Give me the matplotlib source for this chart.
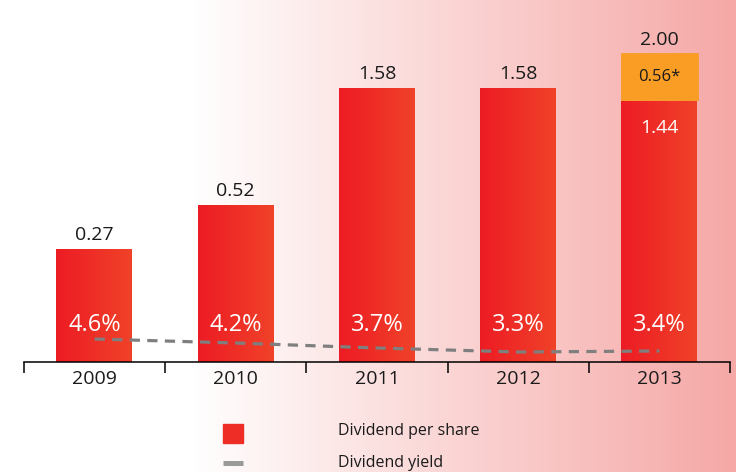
import numpy as np
import matplotlib
matplotlib.use('Agg')
import matplotlib.pyplot as plt
from matplotlib.patches import Rectangle
from matplotlib.lines import Line2D

years = ['2009', '2010', '2011', '2012', '2013']
dividend = [0.27, 0.52, 1.58, 1.58, 1.44]
special = [0, 0, 0, 0, 0.56]
yield_pct = [4.6, 4.2, 3.7, 3.3, 3.4]

plt.rcParams['font.family'] = ['Open Sans', 'DejaVu Sans']

W, H = 736, 472
RED_L = np.array([237, 28, 36]) / 255
RED_R = np.array([240, 66, 41]) / 255
ORANGE = '#f99d25'
TXT = '#1a1a1a'

fig = plt.figure(figsize=(W / 100, H / 100), dpi=100)

# page background: white on the left, fading to pink on the right
bg = fig.add_axes([0, 0, 1, 1], zorder=-10)
px = np.arange(W)
t = np.clip((px - 190) / (W - 190), 0, 1)[:, None]
pink = np.array([245, 168, 166]) / 255
row = (1 - t) * 1.0 + t * pink
bg.imshow(row[None, :, :], aspect='auto', extent=[0, 1, 0, 1])
bg.set_xlim(0, 1)
bg.set_ylim(0, 1)
bg.axis('off')

ax = fig.add_axes([24 / W, 110 / H, 706 / W, 362 / H])
ax.patch.set_alpha(0)
ax.set_yscale('function',
              functions=(lambda v: np.sqrt(np.clip(v, 0, None)), np.square))

x = np.arange(len(years))
bars = ax.bar(x, dividend, width=0.54, color='none', edgecolor='none')

# horizontal red gradient inside each bar
grad = np.linspace(0, 1, 64)[:, None]
grad_rgb = (1 - grad) * RED_L + grad * RED_R
for b in bars:
    x0, w, h = b.get_x(), b.get_width(), b.get_height()
    im = ax.imshow(grad_rgb[None, :, :], aspect='auto',
                   extent=[x0, x0 + w, 0, h], zorder=2)
    im.set_clip_path(b)

# special dividend stacked on top (only where there is one)
sp = np.array(special) > 0
ax.bar(x[sp], np.array(special)[sp], bottom=np.array(dividend)[sp],
       width=0.54, color=ORANGE, edgecolor=ORANGE, lw=0.6, zorder=2)

ax.set_xlim(-0.5, len(years) - 0.5)
ax.set_ylim(0, 2.75)

totals = np.add(dividend, special)
for xi, tot in zip(x, totals):
    ax.annotate(f'{tot:.2f}', (xi, tot), xytext=(0, 3),
                textcoords='offset points', ha='center', va='bottom',
                fontsize=14, color=TXT)

for xi, d, s in zip(x, dividend, special):
    if s > 0:
        ax.annotate(f'{d:.2f}', (xi, d), xytext=(0, -20),
                    textcoords='offset points', ha='center', va='center',
                    fontsize=14, color='white', zorder=5)
        mid = ((np.sqrt(d) + np.sqrt(d + s)) / 2) ** 2
        ax.text(xi, mid, f'{s:.2f}*', ha='center', va='center',
                fontsize=12, color=TXT, zorder=5)

for xi, yv in zip(x, yield_pct):
    ax.text(xi, 0.102, f'{yv}%', transform=ax.get_xaxis_transform(),
            ha='center', va='center', fontsize=17, color='white', zorder=5)

for side in ['top', 'right', 'left']:
    ax.spines[side].set_visible(False)
ax.spines['bottom'].set_linewidth(1.1)
ax.set_yticks([])
ax.set_xticks(np.arange(-0.5, len(years), 1.0))
ax.set_xticklabels([])
ax.tick_params(axis='x', which='major', direction='out', length=8, width=1.1)
ax.set_xticks(x, years, minor=True)
ax.tick_params(axis='x', which='minor', length=0, labelsize=14,
               labelcolor=TXT, pad=6)

# dividend yield on its own hidden scale
ax2 = ax.twinx()
ax2.plot(x, yield_pct, color='#7f7f7f', lw=2.3, linestyle=(0, (3.2, 2.3)))
ax2.set_ylim(2.3, 38.5)
ax2.axis('off')

# legend
fig.add_artist(Rectangle((223 / W, 1 - 443 / H), 20 / W, 19 / H,
                         transform=fig.transFigure, color='#ee2d27'))
fig.add_artist(Line2D([223 / W, 243 / W], [1 - 462.5 / H] * 2,
                      transform=fig.transFigure, lw=3.6, color='#9a9a9a',
                      solid_capstyle='butt'))
fig.text(338 / W, 1 - 431 / H, 'Dividend per share', va='center',
         fontsize=11.5, color=TXT)
fig.text(338 / W, 1 - 463 / H, 'Dividend yield', va='center',
         fontsize=11.5, color=TXT)

fig.savefig('out.png', dpi=100)
